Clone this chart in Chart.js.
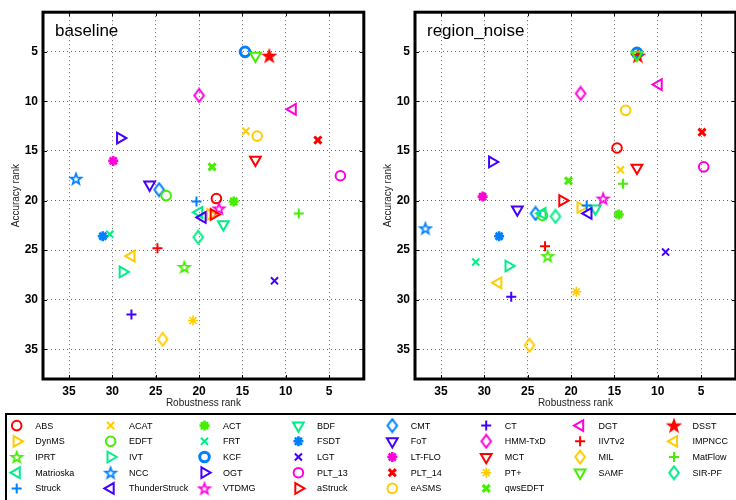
<!DOCTYPE html>
<html>
<head>
<meta charset="utf-8">
<script src="https://cdn.jsdelivr.net/npm/chart.js@4.4.1/dist/chart.umd.min.js"></script>
<style>
html, body { margin: 0; padding: 0; background: #fff; }
#wrap { position: relative; width: 736px; height: 500px; overflow: hidden; background: #fff; }
.pane { position: absolute; }
</style>
</head>
<body>
<div id="wrap">
  <canvas id="left" class="pane" style="left:0;top:0" width="372" height="410"></canvas>
  <canvas id="right" class="pane" style="left:372px;top:0" width="372" height="410"></canvas>
  <canvas id="legend" class="pane" style="left:0;top:405px" width="736" height="95"></canvas>
</div>
<script>
// trackers, in legend order
const trackers = ['ABS', 'ACAT', 'ACT', 'BDF', 'CMT', 'CT', 'DGT', 'DSST',
  'DynMS', 'EDFT', 'FRT', 'FSDT', 'FoT', 'HMM-TxD', 'IIVTv2', 'IMPNCC',
  'IPRT', 'IVT', 'KCF', 'LGT', 'LT-FLO', 'MCT', 'MIL', 'MatFlow',
  'Matrioska', 'NCC', 'OGT', 'PLT_13', 'PLT_14', 'PT+', 'SAMF', 'SIR-PF',
  'Struck', 'ThunderStruck', 'VTDMG', 'aStruck', 'eASMS', 'qwsEDFT'];

// baseline experiment
const baselineRobustness = [18.0, 14.6, 16.0, 17.2, 24.6, 27.8, 9.2, 11.9,
  18.7, 23.8, 30.3, 31.1, 25.7, 20.0, 24.8, 27.8,
  21.7, 28.8, 14.7, 11.3, 29.9, 13.5, 24.2, 8.5,
  20.0, 34.2, 29.1, 3.7, 6.3, 20.7, 13.5, 20.1,
  20.3, 19.6, 17.7, 18.3, 13.3, 18.5];
const baselineAccuracy = [19.8, 13.0, 20.1, 22.4, 18.9, 31.5, 10.8, 5.4,
  21.4, 19.5, 23.4, 23.6, 18.4, 9.4, 24.8, 25.6,
  26.7, 27.2, 5.0, 28.1, 16.0, 15.9, 34.0, 21.3,
  21.2, 17.8, 13.7, 17.5, 13.9, 32.1, 5.4, 23.7,
  20.1, 21.7, 20.8, 21.4, 13.5, 16.6];

// region_noise experiment
const noiseRobustness = [14.7, 14.3, 14.5, 17.2, 24.1, 26.9, 9.9, 12.3,
  18.9, 23.3, 31.0, 28.3, 26.2, 18.9, 23.0, 28.4,
  22.7, 27.2, 12.4, 9.1, 30.2, 12.4, 24.8, 14.0,
  23.3, 36.8, 29.1, 4.7, 4.9, 19.4, 12.4, 21.8,
  18.2, 18.0, 16.3, 21.0, 13.7, 20.3];
const noiseAccuracy = [14.7, 16.9, 21.4, 20.8, 21.3, 29.7, 8.3, 5.4,
  20.7, 21.5, 26.2, 23.6, 20.9, 9.2, 24.6, 28.3,
  25.6, 26.6, 5.1, 25.2, 19.6, 16.7, 34.6, 18.3,
  21.3, 22.8, 16.1, 16.6, 13.1, 29.2, 5.3, 21.6,
  20.5, 21.3, 19.8, 20.0, 10.9, 18.0];

const tickValues = [5, 10, 15, 20, 25, 30, 35];
const rankMin = 1, rankMax = 38;

// marker look per tracker
const RED = '#ff0000', YEL = '#ffcc00', GRN = '#44ee00', TEAL = '#00ee88',
  BLUE = '#0080ff', VIO = '#4400ff', MAG = '#ff00dd';
const markerOf = {
  'ABS': ['o', RED], 'ACAT': ['x', YEL], 'ACT': ['*b', GRN], 'BDF': ['v', TEAL],
  'CMT': ['d', BLUE], 'CT': ['+', VIO], 'DGT': ['<', MAG], 'DSST': ['pf', RED],
  'DynMS': ['>', YEL], 'EDFT': ['o', GRN], 'FRT': ['x', TEAL], 'FSDT': ['*b', BLUE],
  'FoT': ['v', VIO], 'HMM-TxD': ['d', MAG], 'IIVTv2': ['+', RED], 'IMPNCC': ['<', YEL],
  'IPRT': ['p', GRN], 'IVT': ['>', TEAL], 'KCF': ['ob', BLUE], 'LGT': ['x', VIO],
  'LT-FLO': ['*b', MAG], 'MCT': ['v', RED], 'MIL': ['d', YEL], 'MatFlow': ['+', GRN],
  'Matrioska': ['<', TEAL], 'NCC': ['p', BLUE], 'OGT': ['>', VIO], 'PLT_13': ['o', MAG],
  'PLT_14': ['xb', RED], 'PT+': ['*', YEL], 'SAMF': ['v', GRN], 'SIR-PF': ['d', TEAL],
  'Struck': ['+', BLUE], 'ThunderStruck': ['<', VIO], 'VTDMG': ['p', MAG], 'aStruck': ['>', RED],
  'eASMS': ['o', YEL], 'qwsEDFT': ['xb', GRN]
};

function makeDiamond(color) {
  const c = document.createElement('canvas');
  c.width = 14; c.height = 16;
  const g = c.getContext('2d');
  g.strokeStyle = color; g.lineWidth = 2;
  g.beginPath();
  g.moveTo(7, 1.6); g.lineTo(11.8, 8); g.lineTo(7, 14.4); g.lineTo(2.2, 8);
  g.closePath(); g.stroke();
  return c;
}

function makeStar(color, filled) {
  const c = document.createElement('canvas');
  c.width = 16; c.height = 16;
  const g = c.getContext('2d');
  g.strokeStyle = color; g.fillStyle = color;
  g.lineWidth = filled ? 2 : 1.7;
  g.beginPath();
  for (let k = 0; k < 10; k++) {
    const r = k % 2 ? 2.3 : 5.7;
    const a = -Math.PI / 2 + k * Math.PI / 5;
    const px = 8 + r * Math.cos(a), py = 8.5 + r * Math.sin(a);
    if (k) g.lineTo(px, py); else g.moveTo(px, py);
  }
  g.closePath();
  if (filled) g.fill();
  g.stroke();
  return c;
}

function markerStyle(name) {
  const [m, color] = markerOf[name];
  const s = {color, fill: 'rgba(0,0,0,0)', rotation: 0, radius: 5, width: 2, style: 'circle'};
  switch (m) {
    case 'o': s.radius = 4.8; break;
    case 'ob': s.radius = 4.8; s.width = 3; break;
    case 'x': s.style = 'crossRot'; s.radius = 5; break;
    case 'xb': s.style = 'crossRot'; s.radius = 5; s.width = 3; break;
    case '+': s.style = 'cross'; s.radius = 5; break;
    case '*': s.style = 'star'; s.radius = 5; s.width = 1.6; break;
    case '*b': s.style = 'star'; s.radius = 5; s.width = 2.6; break;
    case 'v': s.style = 'triangle'; s.rotation = 180; s.radius = 6.2; break;
    case '<': s.style = 'triangle'; s.rotation = 270; s.radius = 6.2; break;
    case '>': s.style = 'triangle'; s.rotation = 90; s.radius = 6.2; break;
    case 'd': s.style = makeDiamond(color); s.radius = 6; break;
    case 'p': s.style = makeStar(color, false); s.radius = 6; break;
    case 'pf': s.style = makeStar(color, true); s.radius = 6; break;
  }
  return s;
}

const FONT = '"Liberation Sans", Arial, Helvetica, sans-serif';

// full box, inward ticks and panel label
const framePlugin = {
  id: 'frame',
  afterDraw(chart, args, opts) {
    const {ctx, chartArea: a, scales} = chart;
    ctx.save();
    ctx.strokeStyle = '#000';
    ctx.lineWidth = 1;
    ctx.beginPath();
    tickValues.forEach(v => {
      const x = Math.round(scales.x.getPixelForValue(v)) + 0.5;
      const y = Math.round(scales.y.getPixelForValue(v)) + 0.5;
      ctx.moveTo(x, a.bottom); ctx.lineTo(x, a.bottom - 4);
      ctx.moveTo(x, a.top); ctx.lineTo(x, a.top + 4);
      ctx.moveTo(a.left, y); ctx.lineTo(a.left + 4, y);
      ctx.moveTo(a.right, y); ctx.lineTo(a.right - 4, y);
    });
    ctx.stroke();
    ctx.lineWidth = 3;
    ctx.strokeRect(a.left, a.top, a.right - a.left, a.bottom - a.top);
    ctx.fillStyle = '#000';
    ctx.font = '17px ' + FONT;
    ctx.textBaseline = 'alphabetic';
    ctx.fillText(opts.label, a.left + 12, a.top + 24);
    ctx.restore();
  }
};

function setTicks(scale) {
  scale.ticks = tickValues.map(v => ({value: v}));
}

function buildChart(id, label, rob, acc, padRight) {
  const datasets = trackers.map((name, i) => {
    const s = markerStyle(name);
    return {
      label: name,
      data: [{x: rob[i], y: acc[i]}],
      order: -i, // later trackers drawn on top
      pointStyle: s.style,
      pointRotation: s.rotation,
      pointRadius: s.radius,
      pointHoverRadius: s.radius,
      pointBorderWidth: s.width,
      borderColor: s.color,
      backgroundColor: s.fill
    };
  });
  return new Chart(document.getElementById(id), {
    type: 'scatter',
    data: {datasets},
    options: {
      responsive: false,
      animation: false,
      devicePixelRatio: 1,
      layout: {padding: {top: 7, right: padRight, left: 0, bottom: 0}},
      plugins: {
        legend: {display: false},
        tooltip: {enabled: false},
        frame: {label}
      },
      scales: {
        x: {
          type: 'linear', reverse: true, min: rankMin, max: rankMax,
          afterBuildTicks: setTicks,
          afterFit: s => { s.height = 31; },
          grid: {color: '#666', lineWidth: 1, drawTicks: false},
          border: {display: false, dash: [1, 3]},
          ticks: {color: '#000', font: {family: FONT, size: 12, weight: 'bold'}, padding: 5, maxRotation: 0},
          title: {display: true, text: 'Robustness rank', color: '#222',
            font: {family: FONT, size: 10}, padding: {top: 0, bottom: 1}}
        },
        y: {
          type: 'linear', reverse: true, min: rankMin, max: rankMax,
          afterBuildTicks: setTicks,
          afterFit: s => { s.width = 43; },
          grid: {color: '#666', lineWidth: 1, drawTicks: false},
          border: {display: false, dash: [1, 3]},
          ticks: {color: '#000', font: {family: FONT, size: 12, weight: 'bold'}, padding: 5},
          title: {display: true, text: 'Accuracy rank', color: '#222',
            font: {family: FONT, size: 10}, padding: {top: 10, bottom: 0}}
        }
      }
    },
    plugins: [framePlugin]
  });
}

buildChart('left', 'baseline', baselineRobustness, baselineAccuracy, 3);
buildChart('right', 'region_noise', noiseRobustness, noiseAccuracy, 4);

// legend box under both panels, 8 columns, row-major
const lg = document.getElementById('legend').getContext('2d');
lg.strokeStyle = '#000';
lg.lineWidth = 2;
lg.strokeRect(6, 9, 760, 120);
trackers.forEach((name, i) => {
  const col = i % 8, row = Math.floor(i / 8);
  const x = 16.7 + col * 93.9, y = 20.6 + row * 15.7;
  const s = markerStyle(name);
  lg.save();
  lg.strokeStyle = s.color;
  lg.fillStyle = s.fill;
  lg.lineWidth = s.width;
  Chart.helpers.drawPoint(lg, {pointStyle: s.style, rotation: s.rotation, radius: s.radius, borderWidth: s.width}, x, y);
  lg.restore();
  lg.fillStyle = '#000';
  lg.font = '9px ' + FONT;
  lg.textBaseline = 'middle';
  lg.fillText(name, x + 18.5, y + 0.5);
});
</script>
</body>
</html>
